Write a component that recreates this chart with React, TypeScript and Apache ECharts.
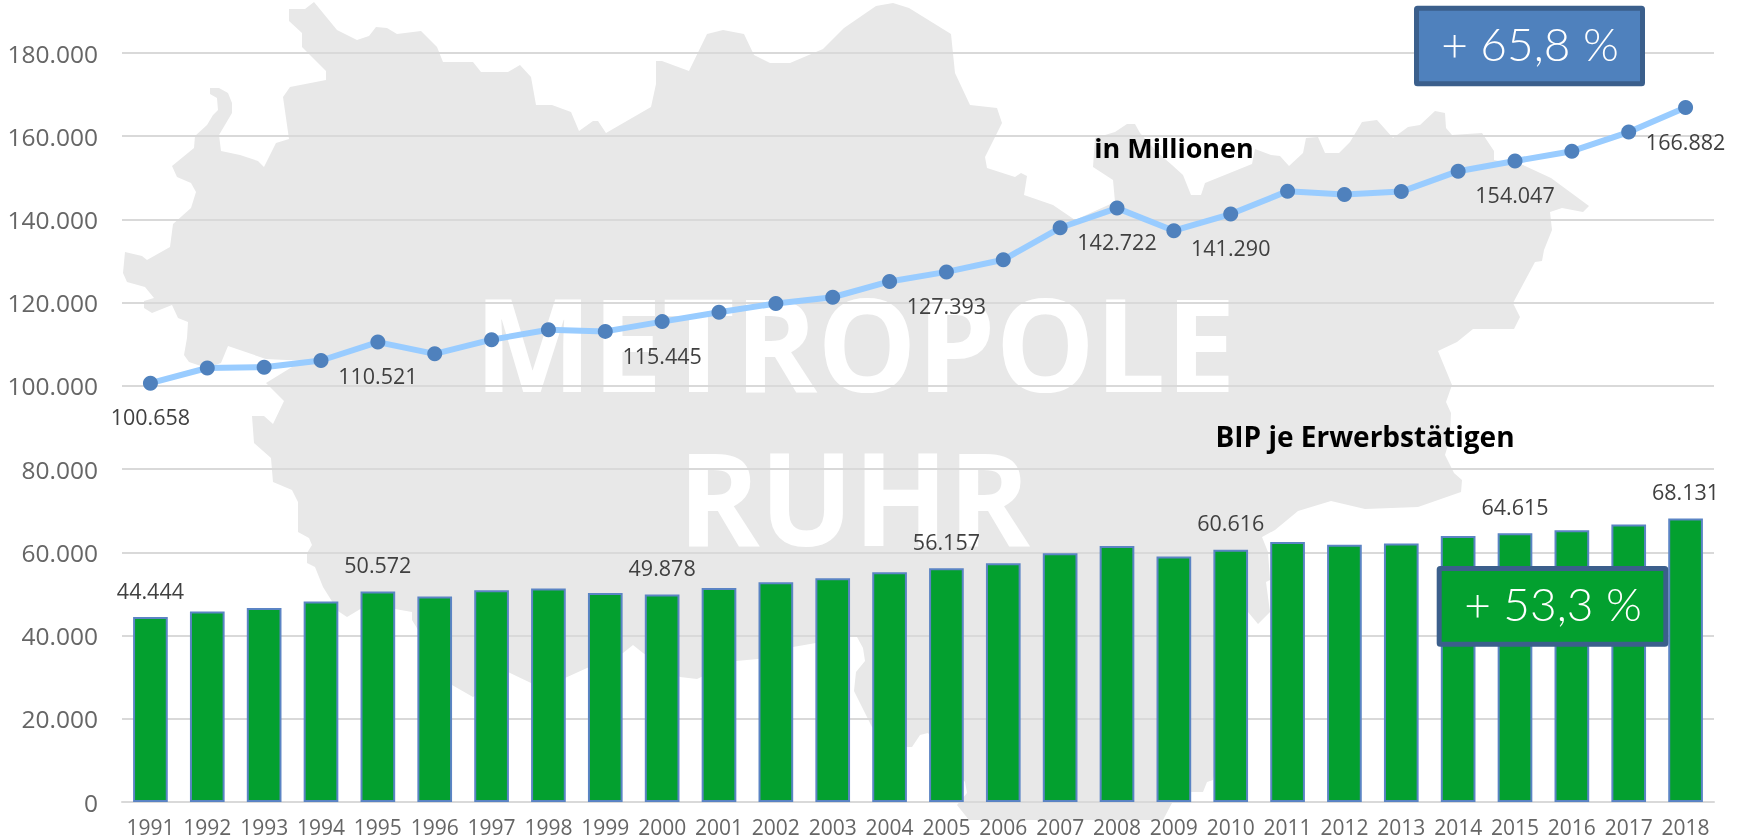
import React, { useEffect, useRef } from "react";
import * as echarts from "echarts";

const years = ["1991","1992","1993","1994","1995","1996","1997","1998","1999","2000","2001","2002","2003","2004","2005","2006","2007","2008","2009","2010","2011","2012","2013","2014","2015","2016","2017","2018"];
const gdpTotal = [100658,104300,104500,106100,110521,107700,111100,113500,113100,115445,117700,119800,121300,125100,127393,130300,138000,142722,137300,141290,146800,146000,146700,151600,154047,156400,161000,166882];
const gdpPerWorker = [44444,45800,46600,48200,50572,49400,50900,51300,50200,49878,51400,52800,53800,55200,56157,57400,59800,61500,59000,60616,62500,61850,62100,63900,64615,65300,66700,68131];
const labelledTotalYears = ["1991","1995","2000","2005","2008","2010","2015","2018"];
const labelledWorkerYears = ["1991","1995","2000","2005","2010","2015","2018"];

const regionOutline: number[][] = [
  [289,9],[305,9],[314,2],[337,30],[357,40],[369,36],[376,27],[387,28],[397,34],[421,31],[437,47],[443,62],[473,62],[481,72],[508,72],[520,65],[531,77],[536,105],[552,105],[571,112],[579,131],[593,121],[598,121],[606,133],[651,107],[656,84],[656,61],[662,61],[689,71],[707,34],[723,30],[744,34],[754,55],[770,63],[790,63],[823,49],[844,28],[876,6],[893,3],[909,8],[951,34],[955,73],[970,105],[997,108],[1002,123],[985,157],[987,168],[1015,177],[1021,173],[1027,176],[1024,195],[1053,205],[1075,220],[1115,202],[1113,180],[1093,167],[1095,138],[1115,132],[1127,124],[1135,124],[1140,133],[1157,152],[1172,165],[1183,175],[1191,195],[1201,195],[1205,183],[1252,164],[1255,149],[1271,155],[1280,156],[1289,166],[1303,153],[1306,138],[1318,137],[1325,153],[1339,153],[1350,142],[1362,122],[1377,120],[1393,138],[1408,127],[1420,125],[1435,111],[1445,113],[1446,128],[1452,135],[1482,133],[1494,151],[1494,160],[1523,165],[1551,178],[1589,206],[1583,212],[1562,208],[1550,212],[1552,230],[1544,250],[1542,261],[1535,262],[1513,303],[1520,317],[1514,329],[1473,329],[1457,342],[1438,351],[1452,385],[1446,402],[1451,413],[1450,438],[1445,455],[1454,473],[1462,480],[1461,492],[1418,507],[1365,509],[1331,501],[1298,511],[1275,530],[1262,537],[1268,552],[1270,580],[1266,582],[1270,612],[1258,624],[1248,612],[1213,780],[1207,782],[1203,792],[1191,792],[1172,803],[1163,820],[969,820],[957,805],[967,793],[965,782],[928,733],[920,735],[912,747],[907,747],[872,727],[854,691],[856,672],[865,661],[863,648],[857,637],[850,637],[793,647],[758,659],[736,661],[697,679],[680,677],[643,653],[633,645],[623,653],[587,668],[565,678],[531,683],[508,672],[473,697],[452,685],[412,620],[412,612],[395,609],[362,608],[347,617],[338,611],[323,587],[315,567],[307,563],[307,553],[312,545],[309,538],[298,532],[298,502],[292,490],[273,482],[271,458],[254,443],[252,416],[264,416],[273,424],[284,401],[266,383],[292,367],[307,361],[266,359],[228,346],[221,363],[207,368],[189,362],[184,355],[187,338],[188,322],[178,318],[172,305],[152,313],[144,308],[144,301],[154,298],[145,287],[127,282],[123,273],[125,252],[142,256],[147,260],[170,247],[173,224],[191,208],[196,192],[191,183],[177,177],[172,166],[194,148],[195,136],[207,125],[213,115],[218,110],[217,98],[210,94],[210,88],[219,88],[228,93],[232,103],[232,113],[219,135],[221,151],[240,155],[258,161],[264,167],[276,143],[289,139],[283,97],[290,87],[326,80],[326,71],[302,47],[302,33],[289,21],
];

const GREEN = "#03A02F";
const BLUE = "#4F81BD";
const BORDER = "#3B5F8C";
const FONT = "'Open Sans', sans-serif";

const dotted = (v: number) => String(v).replace(/\B(?=(\d{3})+(?!\d))/g, ".");

export default function App() {
  const ref = useRef<HTMLDivElement>(null);
  useEffect(() => {
    const chart = echarts.init(ref.current!, undefined, { renderer: "svg" });
    chart.setOption({
      animation: false,
      grid: { left: 122, right: 28, top: 53, bottom: 38, containLabel: false },
      xAxis: {
        type: "category",
        data: years,
        axisTick: { show: false },
        axisLine: { lineStyle: { color: "#D9D9D9", width: 2 } },
        axisLabel: { color: "#666666", fontFamily: FONT, fontSize: 21, margin: 14, interval: 0 },
      },
      yAxis: {
        type: "value",
        min: 0,
        max: 180000,
        interval: 20000,
        axisLine: { show: false },
        axisTick: { show: false },
        splitLine: { lineStyle: { color: "#D9D9D9", width: 2 } },
        axisLabel: { color: "#666666", fontFamily: FONT, fontSize: 24.5, margin: 24, formatter: (v: number) => dotted(v) },
      },
      series: [
        {
          type: "bar",
          barWidth: "61%",
          z: 2,
          itemStyle: { color: GREEN, borderColor: "#5B84C4", borderWidth: 2 },
          data: gdpPerWorker.map((value, i) => ({
            value,
            label: {
              show: labelledWorkerYears.includes(years[i]),
              position: "top",
              distance: 16,
              color: "#404040",
              fontFamily: FONT,
              fontSize: 21.5,
              formatter: (p: any) => dotted(p.value),
            },
          })),
        },
        {
          type: "line",
          z: 3,
          symbol: "circle",
          symbolSize: 15,
          lineStyle: { color: "#99CCFF", width: 6 },
          itemStyle: { color: BLUE },
          data: gdpTotal.map((value, i) => ({
            value,
            label: {
              show: labelledTotalYears.includes(years[i]),
              position: "bottom",
              distance: 15,
              color: "#404040",
              fontFamily: FONT,
              fontSize: 21.5,
              formatter: (p: any) => dotted(p.value),
            },
          })),
        },
      ],
      graphic: {
        elements: [
          { type: "polygon", z: -10, silent: true, shape: { points: regionOutline }, style: { fill: "#E8E8E8" } },
          { type: "text", z: -9, silent: true, x: 855, y: 342, scaleX: 0.97, style: { text: "METROPOLE", fill: "#FFFFFF", font: `700 129px ${FONT}`, textAlign: "center", textVerticalAlign: "middle" } },
          { type: "text", z: -9, silent: true, x: 854, y: 496, scaleX: 0.96, style: { text: "RUHR", fill: "#FFFFFF", font: `700 129px ${FONT}`, textAlign: "center", textVerticalAlign: "middle" } },
          { type: "text", z: 100, x: 1174, y: 147, style: { text: "in Millionen", fill: "#000000", font: `700 27px ${FONT}`, textAlign: "center", textVerticalAlign: "middle" } },
          { type: "text", z: 100, x: 1365, y: 436, style: { text: "BIP je Erwerbstätigen", fill: "#000000", font: `700 28px ${FONT}`, textAlign: "center", textVerticalAlign: "middle" } },
          { type: "rect", z: 100, shape: { x: 1416.5, y: 8.2, width: 226, height: 75.5, r: 1 }, style: { fill: BLUE, stroke: BORDER, lineWidth: 5 } },
          { type: "text", z: 101, x: 1530, y: 43, style: { text: "+ 65,8 %", fill: "#FFFFFF", font: `300 46px Lato, sans-serif`, textAlign: "center", textVerticalAlign: "middle" } },
          { type: "rect", z: 100, shape: { x: 1439.2, y: 568.5, width: 226.6, height: 75.7, r: 1 }, style: { fill: GREEN, stroke: BORDER, lineWidth: 5 } },
          { type: "text", z: 101, x: 1553, y: 603, style: { text: "+ 53,3 %", fill: "#FFFFFF", font: `300 46px Lato, sans-serif`, textAlign: "center", textVerticalAlign: "middle" } },
        ],
      },
    });
    return () => chart.dispose();
  }, []);
  return <div ref={ref} style={{ position: "fixed", left: 0, top: 0, width: 1742, height: 840 }} />;
}
